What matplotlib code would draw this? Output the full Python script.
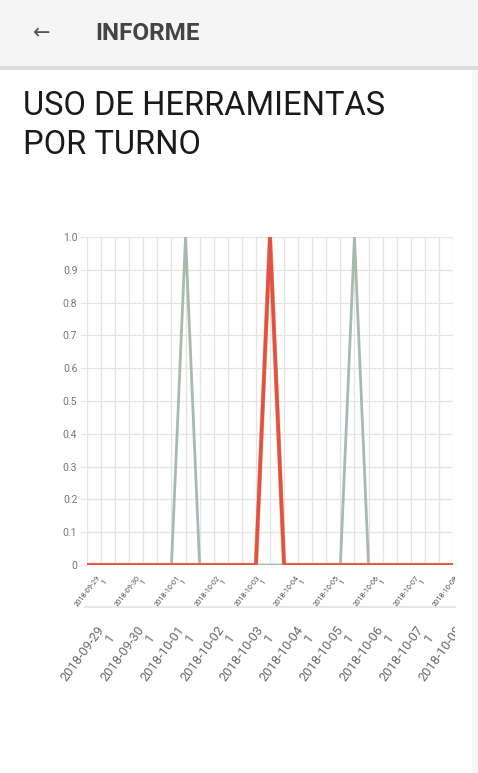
import numpy as np
import matplotlib.pyplot as plt
from matplotlib.patches import Rectangle

plt.rcParams['font.family'] = ['Roboto', 'DejaVu Sans']

# categories: 9 days x 3 turns
dias = ['2018-09-29', '2018-09-30', '2018-10-01', '2018-10-02', '2018-10-03',
        '2018-10-04', '2018-10-05', '2018-10-06', '2018-10-07']
turnos = ['1', '2', '3']
categorias = [d + ' ' + t for d in dias for t in turnos]

# series values (tool used per shift)
serie_gris = [0, 0, 0, 0, 0, 0, 0, 1, 0, 0, 0, 0, 0, 0, 0, 0, 0, 0, 0, 1, 0, 0, 0, 0, 0, 0, 0]
serie_amarilla = [0, 0, 0, 0, 0, 0, 0, 0, 0, 0, 0, 0, 0, 1, 0, 0, 0, 0, 0, 0, 0, 0, 0, 0, 0, 0, 0]
serie_roja = [0, 0, 0, 0, 0, 0, 0, 0, 0, 0, 0, 0, 0, 1, 0, 0, 0, 0, 0, 0, 0, 0, 0, 0, 0, 0, 0]

# labels shown under the chart (auto-skipped, two lines each)
etiquetas_x = ['2018-09-29', '2018-09-30', '2018-10-01', '2018-10-02', '2018-10-03',
               '2018-10-04', '2018-10-05', '2018-10-06', '2018-10-07', '2018-10-08']
y_ticks = [0, 0.1, 0.2, 0.3, 0.4, 0.5, 0.6, 0.7, 0.8, 0.9, 1.0]
y_labels = ['0', '0.1', '0.2', '0.3', '0.4', '0.5', '0.6', '0.7', '0.8', '0.9', '1.0']

W, H = 478, 773
fig = plt.figure(figsize=(W / 100, H / 100), dpi=100)
fig.patch.set_facecolor('white')


def fx(px):
    return px / W


def fy(py):
    return 1 - py / H


# app bar
fig.patches.append(Rectangle((0, fy(66)), 1, 66 / H, transform=fig.transFigure,
                             facecolor='#f5f5f5', edgecolor='none', zorder=0))
fig.patches.append(Rectangle((0, fy(70)), 1, 4 / H, transform=fig.transFigure,
                             facecolor='#dcdcdc', edgecolor='none', zorder=0))
fig.patches.append(Rectangle((fx(472), 0), 6 / W, fy(70), transform=fig.transFigure,
                             facecolor='#f7f7f7', edgecolor='none', zorder=0))
fig.text(fx(42), fy(33), '←', fontsize=15, color='#555555', ha='center', va='center',
         family=['DejaVu Sans'])
fig.text(fx(95), fy(33), 'INFORME', fontsize=17.5, color='#444444', ha='left', va='center',
         fontweight='bold')

# title
fig.text(fx(23), fy(115), 'USO DE HERRAMIENTAS', fontsize=23.5, color='#1a1a1a',
         ha='left', va='baseline')
fig.text(fx(23), fy(154), 'POR TURNO', fontsize=23.5, color='#1a1a1a',
         ha='left', va='baseline')

# main chart
ax = fig.add_axes([fx(87), fy(565), (453 - 87) / W, (565 - 237) / H])
x = np.arange(len(categorias))
ax.plot(x, serie_gris, color='#a8b9ae', lw=2.0, zorder=3)
ax.plot(x, serie_amarilla, color='#f3c26a', lw=3.2, zorder=4)
ax.plot(x, serie_roja, color='#e2504b', lw=2.6, zorder=5)
ax.set_xlim(0, len(categorias) - 1)
ax.set_ylim(0, 1)
ax.set_xticks(x)
ax.set_xticklabels([])
ax.set_yticks(y_ticks)
ax.set_yticklabels(y_labels, fontsize=7.5, color='#777777')
ax.tick_params(axis='y', length=5, color='#e4e4e4', pad=2)
ax.tick_params(axis='x', length=0)
ax.grid(True, color='#e4e4e4', lw=0.9)
ax.set_axisbelow(True)
for s in ax.spines.values():
    s.set_visible(False)

# first (tiny) label row
ax1 = fig.add_axes([fx(85), fy(573), (455 - 85) / W, 0.001])
ax1.set_xlim(-0.3, 8.95)
ax1.set_xticks(np.arange(len(etiquetas_x)))
ax1.set_xticklabels([e + '\n1' for e in etiquetas_x], rotation=52, ha='right',
                    rotation_mode='anchor', fontsize=5.3, color='#505050',
                    multialignment='right', linespacing=1.0)
ax1.tick_params(axis='x', length=0, pad=1)
ax1.set_yticks([])
for s in ax1.spines.values():
    s.set_visible(False)
ax1.patch.set_alpha(0)

# second label row with its axis line
ax2 = fig.add_axes([fx(85), fy(608), (455 - 85) / W, 0.001])
ax2.set_xlim(-0.3, 8.95)
ax2.set_xticks(np.arange(len(etiquetas_x)))
ax2.set_xticklabels([e + '\n1' for e in etiquetas_x], rotation=54, ha='right',
                    rotation_mode='anchor', fontsize=9.3, color='#6a6a6a',
                    multialignment='right', linespacing=1.0)
ax2.tick_params(axis='x', length=0, pad=11)
ax2.set_yticks([])
for k, s in ax2.spines.items():
    s.set_visible(k == 'top')
ax2.spines['top'].set_color('#e4e4e4')
ax2.spines['top'].set_linewidth(1.2)
ax2.patch.set_alpha(0)

clip = Rectangle((0, 0), fx(455), 1, transform=fig.transFigure, visible=False)
fig.patches.append(clip)
for a in (ax1, ax2):
    for lab in a.get_xticklabels():
        lab.set_clip_path(clip)
        lab.set_clip_on(True)

fig.savefig('out.png', dpi=100)
